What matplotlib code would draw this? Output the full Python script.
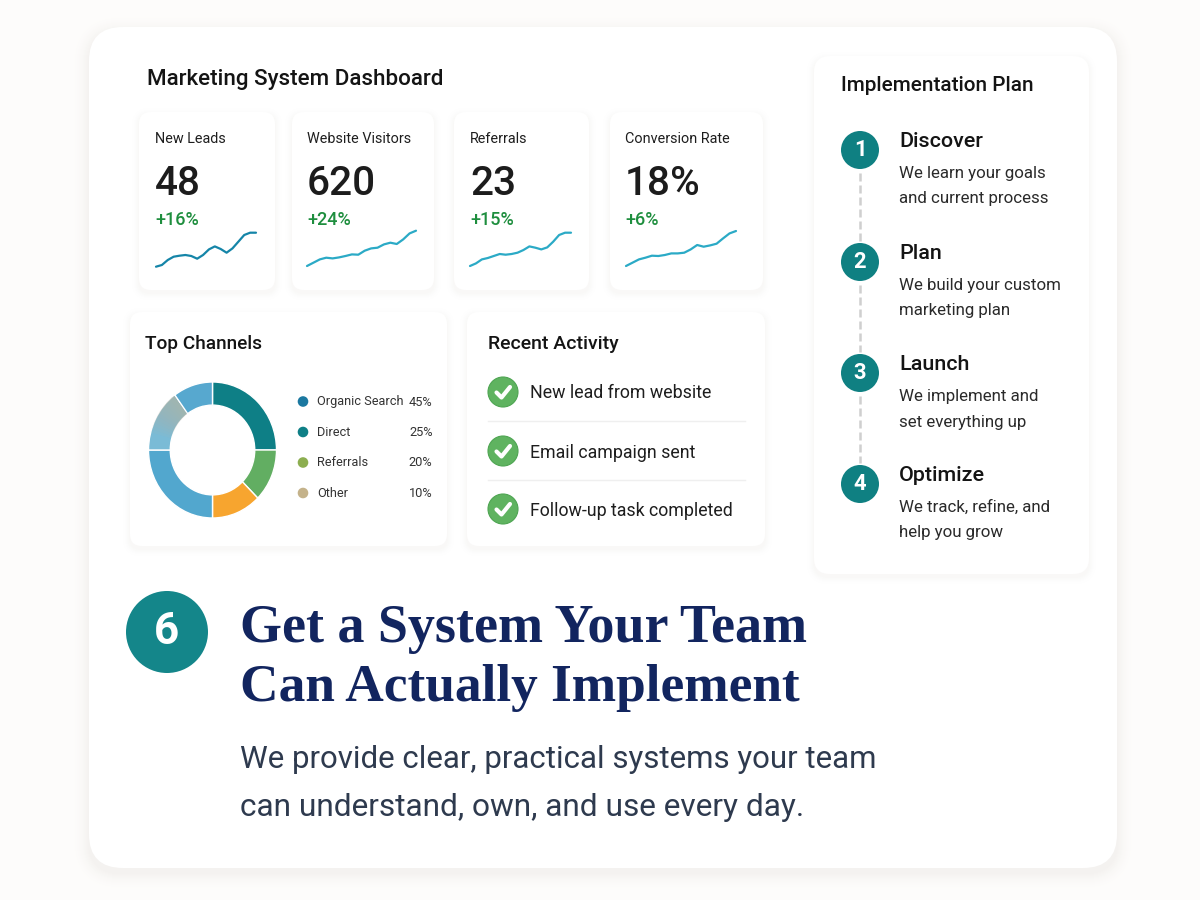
import matplotlib
matplotlib.use('Agg')
import matplotlib.pyplot as plt
import matplotlib.colors as mcolors
import numpy as np
from matplotlib.patches import FancyBboxPatch, Circle, Wedge

W, H = 1200, 900
UI = 'Roboto'
SERIF = 'Liberation Serif'
BG = '#FDFCFB'

# kpi cards
kpi_names = ['New Leads', 'Website Visitors', 'Referrals', 'Conversion Rate']
kpi_values = ['48', '620', '23', '18%']
kpi_changes = ['+16%', '+24%', '+15%', '+6%']
spark_leads = [0, 1.7, 6.7, 10, 11, 11.7, 10.7, 8, 11.7, 17.3, 20.3, 17.7, 14, 18.3, 25, 31.7, 34, 34]
spark_visitors = [0.7, 4, 7.3, 9, 8.3, 9.3, 10.7, 12.3, 12, 16, 18.3, 19, 22.3, 24, 22.7, 27.3, 33.3, 36]
spark_referrals = [0.7, 3.3, 7.3, 8.7, 10.7, 12.7, 12, 12.7, 14, 16.7, 20.3, 19, 17.3, 19.3, 25, 31.7, 34, 34]
spark_conversion = [0.7, 4, 7.3, 9, 11, 10.7, 11.7, 13.3, 13.3, 14, 17.3, 21.7, 20, 21.3, 23, 28.3, 33.3, 35.7]

# donut, clockwise from the top
donut_shares = [25, 12.5, 12.5, 25, 15, 10]
donut_colors = ['#0E7F86', '#62AE62', '#F7A52F', '#52A7CE', '#7ABBD6', '#57A8CF']

channel_names = ['Organic Search', 'Direct', 'Referrals', 'Other']
channel_shares = ['45%', '25%', '20%', '10%']
channel_colors = ['#1B78A0', '#0E7F86', '#8CAE50', '#C4B28A']

activity = ['New lead from website', 'Email campaign sent', 'Follow-up task completed']

steps = ['Discover', 'Plan', 'Launch', 'Optimize']
step_text = [['We learn your goals', 'and current process'],
             ['We build your custom', 'marketing plan'],
             ['We implement and', 'set everything up'],
             ['We track, refine, and', 'help you grow']]

fig = plt.figure(figsize=(12, 9), dpi=100, facecolor=BG)
ax = fig.add_axes([0, 0, 1, 1])
ax.set_xlim(0, W)
ax.set_ylim(H, 0)
ax.axis('off')


def px(size):
    # font size given in pixels
    return size * 0.72


def card(x0, y0, x1, y1, r=12, blur=9, drop=3, dark=0.05, base='#FFFFFF'):
    # opaque layers, very low alpha gets rounded away by agg
    b = np.array(mcolors.to_rgb(base))
    s = np.array(mcolors.to_rgb('#6B5B45'))
    for i in range(blur, 0, -1):
        t = dark * (1 - i / (blur + 1)) ** 2
        ax.add_patch(FancyBboxPatch((x0 - i, y0 - i + drop), x1 - x0 + 2 * i, y1 - y0 + 2 * i,
                                    boxstyle=f'round,pad=0,rounding_size={r + i}',
                                    fc=tuple(b + (s - b) * t), ec='none'))
    ax.add_patch(FancyBboxPatch((x0, y0), x1 - x0, y1 - y0,
                                boxstyle=f'round,pad=0,rounding_size={r}',
                                fc='white', ec='none'))


def label(x, y, s, size, color='#1E1E1E', weight='normal', ha='left', family=UI):
    ax.text(x, y, s, fontsize=px(size), color=color, fontweight=weight, ha=ha, va='center', family=family)


card(89, 27, 1117, 868, r=34, blur=18, drop=5, dark=0.07, base=BG)
label(147, 79, 'Marketing System Dashboard', 22.4, '#141414', 'medium')

# kpi row
kpi_boxes = [(139, 275), (292, 434), (454, 589), (610, 763)]
kpi_text_x = [155, 307, 470, 625]
spark_x = [(156, 256), (307, 416), (470, 571), (626, 736)]
spark_series = [spark_leads, spark_visitors, spark_referrals, spark_conversion]
spark_colors = ['#1585A8', '#2BAAC6', '#2BAAC6', '#2BAAC6']
for i in range(4):
    card(kpi_boxes[i][0], 112, kpi_boxes[i][1], 290)
    label(kpi_text_x[i], 139, kpi_names[i], 14.4)
    label(kpi_text_x[i], 184, kpi_values[i], 40.5, '#1C1C1C', 'medium')
    label(kpi_text_x[i], 220, kpi_changes[i], 18, '#1E8E3E', 'medium')
    sp = fig.add_axes([spark_x[i][0] / W, 1 - 266.7 / H, (spark_x[i][1] - spark_x[i][0]) / W, 40 / H])
    sp.plot(range(len(spark_series[i])), spark_series[i], color=spark_colors[i], lw=1.6,
            solid_capstyle='round', solid_joinstyle='round', clip_on=False)
    sp.set_xlim(0, len(spark_series[i]) - 1)
    sp.set_ylim(0, 40)
    sp.axis('off')

# top channels
card(130, 312, 447, 546)
label(145, 344, 'Top Channels', 19, '#141414', 'medium')
dn = fig.add_axes([148.5 / W, 1 - 518 / H, 128 / W, 136 / H])
dn.pie(donut_shares, colors=donut_colors, startangle=90, counterclock=False, radius=1,
       wedgeprops=dict(width=0.34, edgecolor='white', linewidth=1.0))
# grey fade at the top of the light blue slice
for end in range(129, 168, 3):
    dn.add_patch(Wedge((0, 0), 0.995, 127, end, width=0.33, fc='#B4B5A6', ec='none', alpha=0.09))
dn.set_aspect('auto')
dn.set_xlim(-1, 1)
dn.set_ylim(-1, 1)
for i in range(4):
    y = [401.5, 432, 462.5, 493][i]
    ax.add_patch(Circle((303, y), 5.3, fc=channel_colors[i], ec='none'))
    label(317, y + 0.5, channel_names[i], 12.7, '#333333')
    label(432.5, y + 0.5, channel_shares[i], 12.7, '#333333', ha='right')

# recent activity
card(467, 312, 765, 546)
label(488, 344, 'Recent Activity', 19.5, '#141414', 'medium')
for i in range(3):
    y = [392, 451, 509][i]
    ax.add_patch(Circle((503, y), 15, fc='#5FB360', ec='#4EA552', lw=0.8))
    ax.plot([503 - 6.5, 503 - 1.5, 503 + 7], [y + 0.5, y + 5.5, y - 5], color='white', lw=3,
            solid_capstyle='round', solid_joinstyle='round')
    label(530, y + 1.5, activity[i], 17.8)
for y in [421, 480]:
    ax.plot([488, 745], [y, y], color='#EFEFEF', lw=1)

# implementation plan
card(814, 56, 1089, 574, r=16)
label(841, 85.5, 'Implementation Plan', 20.8, '#141414', 'medium')
step_y = [150, 262, 373, 484]
for i in range(3):
    ax.plot([860, 860], [step_y[i] + 23, step_y[i + 1] - 21], color='#CFCFCF', lw=1.8, ls=(0, (3.2, 1.6)))
for i, y in enumerate(step_y):
    ax.add_patch(Circle((860, y), 19, fc='#0F8082', ec='none'))
    ax.text(860, y, str(i + 1), color='white', fontsize=px(22), fontweight='bold', ha='center',
            va='center', family=UI)
    label(899, y - 8.5, steps[i], 21.5, '#141414', 'medium')
    label(899, y + 23.5, step_text[i][0], 16.9, '#2A2A2A')
    label(899, y + 49, step_text[i][1], 16.9, '#2A2A2A')

# headline
ax.add_patch(Circle((167, 632), 41, fc='#14868A', ec='none'))
ax.text(167, 632, '6', color='white', fontsize=px(44), fontweight='bold', ha='center', va='center', family=UI)
label(240, 629, 'Get a System Your Team', 54, '#12255F', 'bold', family=SERIF)
label(240, 688, 'Can Actually Implement', 53.4, '#12255F', 'bold', family=SERIF)
label(240, 759, 'We provide clear, practical systems your team', 31.3, '#2E3A4E')
label(240, 808, 'can understand, own, and use every day.', 31.6, '#2E3A4E')

fig.savefig('out.png', dpi=100, facecolor=fig.get_facecolor())
